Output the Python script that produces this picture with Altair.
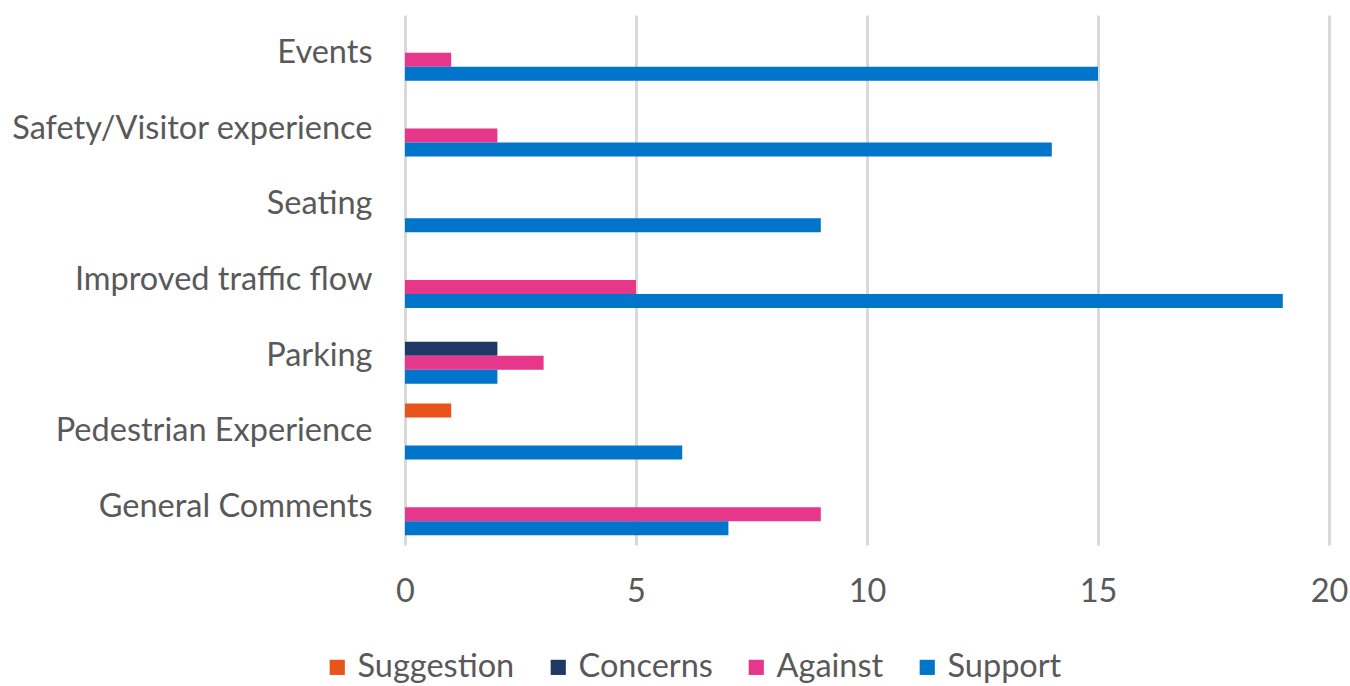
import altair as alt
import pandas as pd

categories = ["Events", "Safety/Visitor experience", "Seating", "Improved traffic flow",
              "Parking", "Pedestrian Experience", "General Comments"]
series = ["Suggestion", "Concerns", "Against", "Support"]
colors = ["#E8541A", "#203864", "#E6378B", "#0075C9"]

suggestion = [0, 0, 0, 0, 0, 1, 0]
concerns = [0, 0, 0, 0, 2, 0, 0]
against = [1, 2, 0, 5, 3, 0, 9]
support = [15, 14, 9, 19, 2, 6, 7]

rows = []
for s, vals in zip(series, [suggestion, concerns, against, support]):
    for c, v in zip(categories, vals):
        rows.append({"Category": c, "Series": s, "Value": v})
df = pd.DataFrame(rows)

FONT = "Lato"
GREY = "#595959"
FS = 32.5

chart = alt.Chart(df).mark_bar().encode(
    y=alt.Y("Category:N", sort=categories,
            scale=alt.Scale(paddingInner=0.26, paddingOuter=0.13),
            axis=alt.Axis(title=None, domain=False, ticks=False, labelFontSize=FS,
                          labelFont=FONT, labelColor=GREY, labelPadding=33,
                          labelLimit=500, grid=False)),
    yOffset=alt.YOffset("Series:N", sort=series,
                        scale=alt.Scale(paddingInner=0, paddingOuter=0)),
    x=alt.X("Value:Q", scale=alt.Scale(domain=[0, 20]),
            axis=alt.Axis(title=None, values=[0, 5, 10, 15, 20], domain=False, ticks=False,
                          labelFontSize=FS, labelFont=FONT, labelColor=GREY, labelFlush=False,
                          labelPadding=30, grid=True, gridColor="#D9D9D9", gridWidth=3)),
    color=alt.Color("Series:N", sort=series,
                    scale=alt.Scale(domain=series, range=colors),
                    legend=alt.Legend(title=None, orient="none", direction="horizontal",
                                      legendX=-84, legendY=636, columns=4,
                                      symbolType="square", symbolSize=230,
                                      symbolStrokeWidth=0, labelFontSize=FS,
                                      labelFont=FONT, labelColor=GREY, labelOffset=4,
                                      columnPadding=27)),
).properties(
    width=924, height=530,
    padding={"left": 405, "top": 15, "right": 21, "bottom": 141},
    autosize=alt.AutoSizeParams(type="none"),
).configure_view(stroke=None)

chart.save("out.html", embed_options={"renderer": "svg", "actions": False})
